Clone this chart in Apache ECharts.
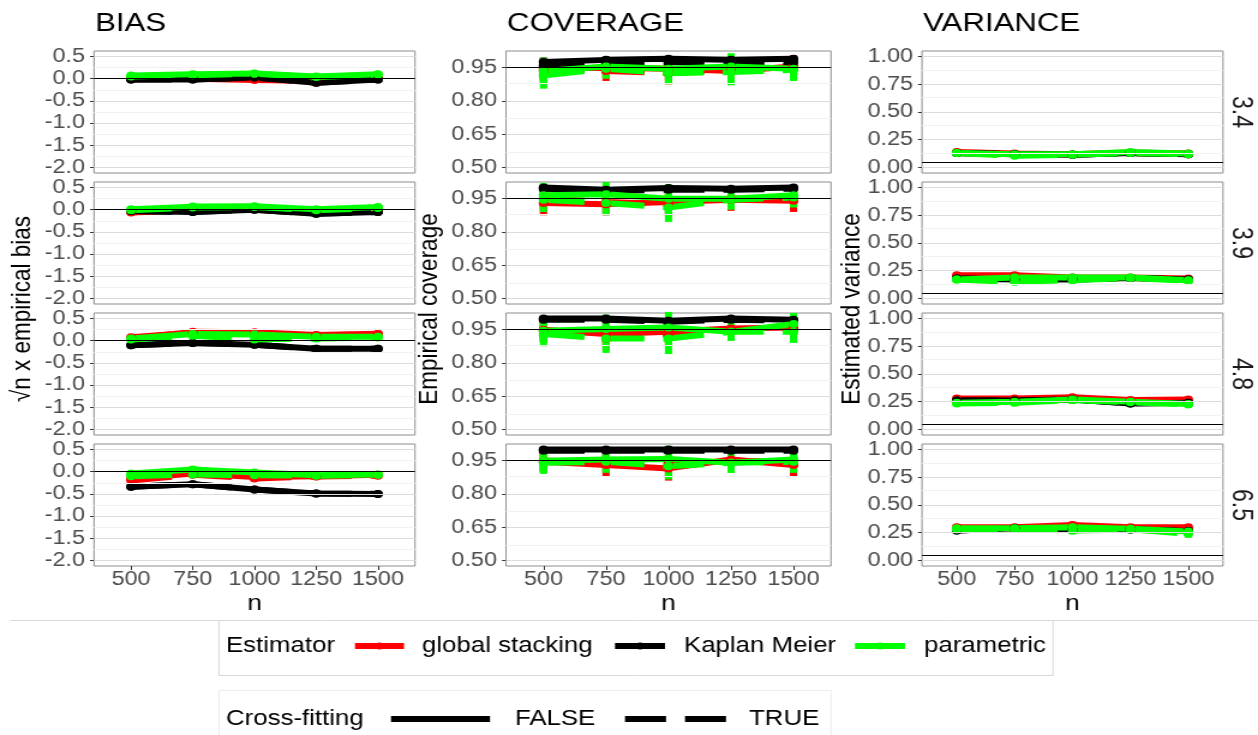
<!DOCTYPE html>
<html>
<head>
<meta charset="utf-8">
<script src="https://cdn.jsdelivr.net/npm/echarts@6/dist/echarts.min.js"></script>
<style>
  html, body { margin: 0; padding: 0; background: #fff; overflow: hidden; }
  /* the figure is laid out on a narrower canvas and widened to the page */
  #chart { width: 1048px; height: 735px; transform: scaleX(1.20038); transform-origin: 0 0; }
</style>
</head>
<body>
<div id="chart"></div>
<script>
// ---------- data ----------
const sampleSizes = [500, 750, 1000, 1250, 1500];
const scenarioLabels = ['3.4', '3.9', '4.8', '6.5'];
const estimatorNames = ['global stacking', 'Kaplan Meier', 'parametric'];
const crossFitNames = ['FALSE', 'TRUE'];

// axis ticks
const biasTicks = [-2.0, -1.5, -1.0, -0.5, 0.0, 0.5];
const biasMinor = [-1.75, -1.25, -0.75, -0.25, 0.25];
const coverageTicks = [0.50, 0.65, 0.80, 0.95];
const coverageMinor = [0.575, 0.725, 0.875];
const varianceTicks = [0.00, 0.25, 0.50, 0.75, 1.00];
const varianceMinor = [0.125, 0.375, 0.625, 0.875];

// reference values (one per scenario row)
const biasTarget = [0, 0, 0, 0];
const coverageTarget = [0.95, 0.95, 0.95, 0.95];
const varianceTarget = [0.048, 0.048, 0.047, 0.05];

// sqrt(n) x empirical bias — rows are scenarios 3.4, 3.9, 4.8, 6.5
const biasStackFalse = [
  [-0.01, 0.00, -0.03, -0.05, 0.00],
  [-0.06, -0.02, 0.01, -0.08, -0.03],
  [0.05, 0.20, 0.19, 0.13, 0.16],
  [-0.16, -0.04, -0.12, -0.10, -0.07]];
const biasStackTrue = [
  [0.01, 0.02, 0.05, -0.02, 0.03],
  [-0.04, 0.00, 0.03, -0.06, -0.02],
  [0.08, 0.18, 0.17, 0.12, 0.15],
  [-0.20, -0.07, -0.15, -0.11, -0.09]];
const biasKmFalse = [
  [-0.02, -0.02, 0.03, -0.09, -0.02],
  [-0.03, -0.05, 0.00, -0.09, -0.05],
  [-0.10, -0.05, -0.09, -0.18, -0.18],
  [-0.34, -0.28, -0.40, -0.49, -0.50]];
const biasKmTrue = [
  [-0.02, -0.02, 0.03, -0.09, -0.02],
  [-0.03, -0.05, 0.00, -0.09, -0.05],
  [-0.10, -0.05, -0.09, -0.18, -0.18],
  [-0.34, -0.28, -0.40, -0.49, -0.50]];
const biasParFalse = [
  [0.07, 0.10, 0.12, 0.05, 0.10],
  [0.01, 0.07, 0.08, 0.01, 0.06],
  [0.05, 0.15, 0.14, 0.09, 0.09],
  [-0.04, 0.05, -0.02, -0.08, -0.06]];
const biasParTrue = [
  [0.05, 0.08, 0.11, 0.04, 0.09],
  [-0.01, 0.05, 0.06, -0.01, 0.04],
  [0.03, 0.11, 0.03, 0.05, 0.07],
  [-0.10, -0.06, -0.08, -0.09, -0.07]];
// half-widths of the bias intervals
const biasStackErr = [
  [0.04, 0.04, 0.05, 0.04, 0.04],
  [0.05, 0.04, 0.05, 0.04, 0.04],
  [0.05, 0.05, 0.05, 0.04, 0.04],
  [0.05, 0.05, 0.05, 0.04, 0.04]];
const biasKmErr = [
  [0.03, 0.03, 0.03, 0.03, 0.03],
  [0.03, 0.03, 0.03, 0.03, 0.03],
  [0.04, 0.04, 0.04, 0.04, 0.04],
  [0.04, 0.04, 0.04, 0.04, 0.04]];
const biasParErr = [
  [0.05, 0.05, 0.05, 0.04, 0.04],
  [0.05, 0.05, 0.05, 0.05, 0.04],
  [0.05, 0.05, 0.06, 0.05, 0.05],
  [0.05, 0.06, 0.06, 0.05, 0.05]];

// empirical coverage
const coverageStackFalse = [
  [0.945, 0.950, 0.945, 0.935, 0.955],
  [0.930, 0.925, 0.935, 0.945, 0.940],
  [0.950, 0.930, 0.940, 0.955, 0.960],
  [0.945, 0.930, 0.915, 0.955, 0.930]];
const coverageStackTrue = [
  [0.935, 0.935, 0.925, 0.940, 0.960],
  [0.950, 0.935, 0.925, 0.950, 0.955],
  [0.945, 0.910, 0.930, 0.950, 0.955],
  [0.950, 0.945, 0.935, 0.950, 0.945]];
const coverageKmFalse = [
  [0.975, 0.985, 0.990, 0.985, 0.990],
  [1.000, 0.990, 0.998, 0.995, 1.000],
  [1.000, 1.000, 0.990, 1.000, 0.995],
  [1.000, 1.000, 1.000, 1.000, 1.000]];
const coverageKmTrue = [
  [0.960, 0.970, 0.975, 0.970, 0.975],
  [0.995, 0.985, 0.990, 0.990, 0.995],
  [0.995, 0.995, 0.985, 0.995, 0.990],
  [0.995, 0.995, 0.995, 0.995, 0.995]];
const coverageParFalse = [
  [0.935, 0.955, 0.945, 0.955, 0.945],
  [0.965, 0.970, 0.950, 0.950, 0.965],
  [0.945, 0.953, 0.960, 0.940, 0.975],
  [0.950, 0.955, 0.957, 0.940, 0.955]];
const coverageParTrue = [
  [0.915, 0.945, 0.925, 0.930, 0.940],
  [0.945, 0.930, 0.910, 0.945, 0.955],
  [0.930, 0.910, 0.910, 0.940, 0.940],
  [0.940, 0.945, 0.925, 0.940, 0.945]];
const coverageStackErr = [
  [0.050, 0.045, 0.050, 0.050, 0.045],
  [0.055, 0.050, 0.055, 0.050, 0.050],
  [0.050, 0.055, 0.050, 0.045, 0.050],
  [0.050, 0.050, 0.055, 0.045, 0.050]];
const coverageKmErr = [
  [0.020, 0.015, 0.012, 0.015, 0.012],
  [0.005, 0.010, 0.005, 0.008, 0.005],
  [0.005, 0.005, 0.010, 0.005, 0.008],
  [0.004, 0.004, 0.004, 0.004, 0.004]];
const coverageParErr = [
  [0.060, 0.045, 0.050, 0.060, 0.050],
  [0.055, 0.055, 0.065, 0.045, 0.045],
  [0.055, 0.065, 0.070, 0.040, 0.050],
  [0.050, 0.050, 0.060, 0.045, 0.050]];

// estimated variance
const varianceStackFalse = [
  [0.140, 0.125, 0.120, 0.135, 0.125],
  [0.210, 0.210, 0.190, 0.190, 0.180],
  [0.280, 0.280, 0.290, 0.265, 0.270],
  [0.300, 0.300, 0.320, 0.300, 0.300]];
const varianceStackTrue = [
  [0.130, 0.115, 0.115, 0.130, 0.120],
  [0.190, 0.160, 0.175, 0.185, 0.170],
  [0.260, 0.270, 0.280, 0.255, 0.250],
  [0.290, 0.290, 0.300, 0.290, 0.280]];
const varianceKmFalse = [
  [0.130, 0.120, 0.115, 0.130, 0.120],
  [0.180, 0.170, 0.170, 0.185, 0.170],
  [0.260, 0.260, 0.270, 0.235, 0.240],
  [0.270, 0.290, 0.275, 0.280, 0.265]];
const varianceKmTrue = [
  [0.130, 0.120, 0.115, 0.130, 0.120],
  [0.180, 0.170, 0.170, 0.185, 0.170],
  [0.260, 0.260, 0.270, 0.235, 0.240],
  [0.270, 0.290, 0.275, 0.280, 0.265]];
const varianceParFalse = [
  [0.130, 0.120, 0.120, 0.140, 0.125],
  [0.170, 0.190, 0.190, 0.190, 0.165],
  [0.240, 0.250, 0.270, 0.250, 0.230],
  [0.290, 0.290, 0.300, 0.285, 0.260]];
const varianceParTrue = [
  [0.130, 0.105, 0.115, 0.130, 0.120],
  [0.170, 0.150, 0.165, 0.185, 0.160],
  [0.235, 0.240, 0.265, 0.245, 0.225],
  [0.280, 0.285, 0.270, 0.280, 0.240]];
const varianceStackErr = [
  [0.020, 0.020, 0.020, 0.020, 0.020],
  [0.025, 0.025, 0.025, 0.020, 0.020],
  [0.025, 0.025, 0.030, 0.025, 0.025],
  [0.025, 0.025, 0.030, 0.025, 0.025]];
const varianceKmErr = [
  [0.015, 0.015, 0.015, 0.015, 0.015],
  [0.015, 0.015, 0.015, 0.015, 0.015],
  [0.020, 0.020, 0.020, 0.020, 0.020],
  [0.020, 0.020, 0.020, 0.020, 0.020]];
const varianceParErr = [
  [0.020, 0.020, 0.020, 0.020, 0.020],
  [0.025, 0.030, 0.030, 0.020, 0.020],
  [0.025, 0.030, 0.035, 0.025, 0.030],
  [0.025, 0.030, 0.035, 0.030, 0.035]];

// ---------- layout ----------
const S = 1258 / 1048;            // horizontal widening applied by CSS
const X = v => v / S;             // page x -> canvas x
const FONT = "'Liberation Sans', Arial, Helvetica, sans-serif";
const colLeft = [94, 506, 922];
const colRight = [415, 831, 1223];
const rowTop = [51, 182, 313, 444];
const panelH = 122;
const estimatorColors = ['#ff0000', '#000000', '#00ff00'];
const dashPattern = [X(41), X(19)];

const metrics = [
  { title: 'BIAS', axisName: '√n x empirical bias', min: -2.125, max: 0.625, ticks: biasTicks, minor: biasMinor,
    decimals: 1, target: biasTarget, titleX: 23,
    values: [[biasStackFalse, biasStackTrue], [biasKmFalse, biasKmTrue], [biasParFalse, biasParTrue]],
    errors: [biasStackErr, biasKmErr, biasParErr] },
  { title: 'COVERAGE', axisName: 'Empirical coverage', min: 0.475, max: 1.025, ticks: coverageTicks, minor: coverageMinor,
    decimals: 2, target: coverageTarget, titleX: 430,
    values: [[coverageStackFalse, coverageStackTrue], [coverageKmFalse, coverageKmTrue], [coverageParFalse, coverageParTrue]],
    errors: [coverageStackErr, coverageKmErr, coverageParErr] },
  { title: 'VARIANCE', axisName: 'Estimated variance', min: -0.05, max: 1.05, ticks: varianceTicks, minor: varianceMinor,
    decimals: 2, target: varianceTarget, titleX: 852,
    values: [[varianceStackFalse, varianceStackTrue], [varianceKmFalse, varianceKmTrue], [varianceParFalse, varianceParTrue]],
    errors: [varianceStackErr, varianceKmErr, varianceParErr] }
];

const grids = [], xAxes = [], yAxes = [], series = [];

metrics.forEach((m, mi) => {
  scenarioLabels.forEach((lab, ri) => {
    const gi = xAxes.length;
    const bottom = ri === scenarioLabels.length - 1;
    grids.push({
      left: X(colLeft[mi]), top: rowTop[ri], width: X(colRight[mi] - colLeft[mi]), height: panelH,
      show: true, backgroundColor: '#ffffff', borderColor: '#8c8c8c', borderWidth: 1,
      outerBoundsMode: 'none'
    });
    xAxes.push({
      gridIndex: gi, type: 'value', min: 350, max: 1650,
      splitLine: { show: false },
      axisLine: { show: false, onZero: false },
      axisTick: { show: bottom, customValues: sampleSizes, length: 4, lineStyle: { color: '#333333', width: 1 } },
      axisLabel: { show: bottom, customValues: sampleSizes, margin: 4, fontSize: 19.5, color: '#4d4d4d', fontFamily: FONT,
                   formatter: v => String(v) }
    });
    yAxes.push({
      gridIndex: gi, type: 'value', min: m.min, max: m.max,
      splitLine: { show: false },
      axisLine: { show: false, onZero: false },
      axisTick: { show: true, customValues: m.ticks, length: X(4), lineStyle: { color: '#333333', width: 1 } },
      axisLabel: { customValues: m.ticks, margin: X(9), fontSize: 19.5, color: '#4d4d4d', fontFamily: FONT,
                   formatter: v => Number(v).toFixed(m.decimals) }
    });

    // background grid lines
    series.push({
      type: 'line', xAxisIndex: gi, yAxisIndex: gi, silent: true, z: 1,
      data: [[sampleSizes[0], m.ticks[0]]], showSymbol: false, lineStyle: { opacity: 0 },
      markLine: {
        silent: true, symbol: ['none', 'none'], label: { show: false }, animation: false,
        data: m.minor.map(v => ({ yAxis: v, lineStyle: { color: '#f1f1f1', width: 1, type: 'solid' } }))
          .concat(m.ticks.map(v => ({ yAxis: v, lineStyle: { color: '#dcdcdc', width: 1, type: 'solid' } })))
      }
    });
    // reference line
    series.push({
      type: 'line', xAxisIndex: gi, yAxisIndex: gi, silent: true, z: 1,
      data: [[sampleSizes[0], m.target[ri]]], showSymbol: false, lineStyle: { opacity: 0 },
      markLine: {
        silent: true, symbol: ['none', 'none'], label: { show: false }, animation: false,
        data: [{ yAxis: m.target[ri], lineStyle: { color: '#000000', width: 1.2, type: 'solid' } }]
      }
    });

    // estimator lines, points and interval bars
    estimatorNames.forEach((est, ei) => {
      const color = estimatorColors[ei];
      const err = m.errors[ei][ri];
      crossFitNames.forEach((cf, ci) => {
        const vals = m.values[ei][ci][ri];
        series.push({
          name: est + ' / ' + cf + ' interval',
          type: 'custom', xAxisIndex: gi, yAxisIndex: gi, silent: true, z: 2,
          data: sampleSizes.map((n, i) => [n, vals[i] - err[i], vals[i] + err[i]]),
          encode: { x: 0, y: [1, 2] },
          renderItem: (params, api) => {
            const a = api.coord([api.value(0), api.value(1)]);
            const b = api.coord([api.value(0), api.value(2)]);
            return { type: 'line', shape: { x1: a[0], y1: a[1], x2: b[0], y2: b[1] },
                     style: { stroke: color, lineWidth: 6 } };
          }
        });
      });
      crossFitNames.forEach((cf, ci) => {
        const vals = m.values[ei][ci][ri];
        series.push({
          name: est + ' / ' + cf,
          type: 'line', xAxisIndex: gi, yAxisIndex: gi, silent: true, z: 2,
          data: sampleSizes.map((n, i) => [n, vals[i]]),
          symbol: 'circle', symbolSize: 8, showSymbol: true,
          itemStyle: { color: color },
          lineStyle: { color: color, width: 6, type: ci === 0 ? 'solid' : dashPattern, cap: 'butt' }
        });
      });
    });
  });
});

// ---------- text and legend ----------
const graphic = [];
const txt = (text, x, y, size, opts) => Object.assign({
  type: 'text', x: X(x), y: y, silent: true,
  style: Object.assign({ text: text, fontSize: size, fontFamily: FONT, fill: '#000000',
                         align: 'left', verticalAlign: 'middle' }, (opts && opts.style) || {})
}, (opts && opts.el) || {});

// column headings
metrics.forEach((m, mi) => {
  graphic.push(txt(m.title, colLeft[mi] + 1, 24, 26));
  graphic.push(txt(m.axisName, m.titleX, 309, 22.5,
    { style: { align: 'center' }, el: { rotation: Math.PI / 2 } }));
  graphic.push(txt('n', (colLeft[mi] + colRight[mi]) / 2, 604, 22, { style: { align: 'center' } }));
});
// facet strip labels
scenarioLabels.forEach((lab, ri) => {
  graphic.push(txt(lab, 1241, rowTop[ri] + panelH / 2, 23,
    { style: { align: 'center', fill: '#1a1a1a' }, el: { rotation: -Math.PI / 2 } }));
});

// legend frames
const hline = (x1, x2, y, color) => ({ type: 'line', silent: true,
  shape: { x1: X(x1), y1: y, x2: X(x2), y2: y }, style: { stroke: color, lineWidth: 1 } });
const vline = (x, y1, y2, color) => ({ type: 'line', silent: true,
  shape: { x1: X(x), y1: y1, x2: X(x), y2: y2 }, style: { stroke: color, lineWidth: 1 } });
graphic.push(hline(10, 1258, 620.5, '#d9d9d9'));
graphic.push(vline(219, 620.5, 675.5, '#d9d9d9'));
graphic.push(vline(1053, 620.5, 675.5, '#d9d9d9'));
graphic.push(hline(219, 1053, 675.5, '#d9d9d9'));
graphic.push(hline(219, 831, 690.5, '#ececec'));
graphic.push(vline(219, 690.5, 735, '#ececec'));
graphic.push(vline(831, 690.5, 735, '#ececec'));

// estimator legend
const legY1 = 646, legY2 = 719;
graphic.push(txt('Estimator', 226, legY1, 21.5));
const keySpans = [[355, 404], [615, 665], [855, 905]];
const keyLabelX = [422, 684, 924];
estimatorNames.forEach((est, ei) => {
  const [a, b] = keySpans[ei];
  graphic.push({ type: 'line', silent: true, shape: { x1: X(a), y1: legY1, x2: X(b), y2: legY1 },
                 style: { stroke: estimatorColors[ei], lineWidth: 6 } });
  graphic.push({ type: 'circle', silent: true, shape: { cx: X((a + b) / 2), cy: legY1, r: 3.5 },
                 style: { fill: estimatorColors[ei] } });
  graphic.push(txt(est, keyLabelX[ei], legY1, 21.5));
});

// cross-fitting legend
graphic.push(txt('Cross-fitting', 226, legY2, 21.5));
graphic.push({ type: 'line', silent: true, shape: { x1: X(391), y1: legY2, x2: X(490), y2: legY2 },
               style: { stroke: '#000000', lineWidth: 6 } });
graphic.push(txt(crossFitNames[0], 515, legY2, 21.5));
graphic.push({ type: 'line', silent: true, shape: { x1: X(625), y1: legY2, x2: X(727), y2: legY2 },
               style: { stroke: '#000000', lineWidth: 6, lineDash: dashPattern } });
graphic.push(txt(crossFitNames[1], 749, legY2, 21.5));

const chart = echarts.init(document.getElementById('chart'), null, { renderer: 'canvas' });
chart.setOption({
  backgroundColor: '#ffffff',
  animation: false,
  textStyle: { fontFamily: FONT },
  grid: grids,
  xAxis: xAxes,
  yAxis: yAxes,
  series: series,
  graphic: graphic
});
</script>
</body>
</html>
